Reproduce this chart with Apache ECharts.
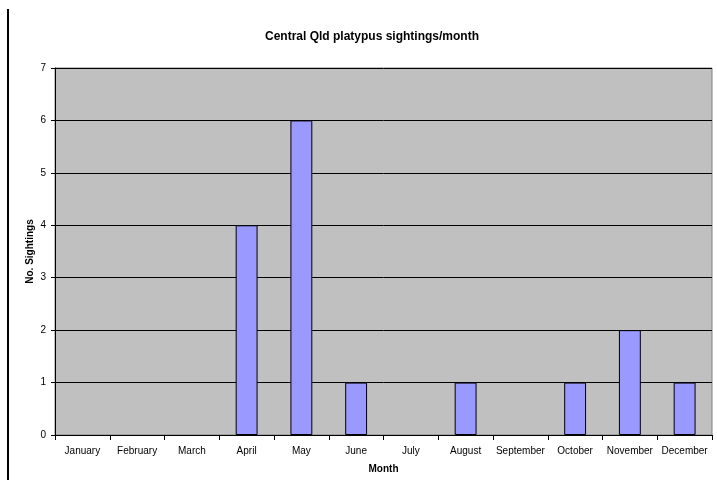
<!DOCTYPE html>
<html><head><meta charset="utf-8">
<script src="https://cdn.jsdelivr.net/npm/echarts@6/dist/echarts.min.js"></script>
<style>html,body{margin:0;padding:0;background:#fff}#c{width:717px;height:486px}</style>
</head><body><div id="c"></div>
<script>
const months = ['January','February','March','April','May','June','July','August','September','October','November','December'];
const sightings = [0,0,0,4,6,1,0,1,0,1,2,1];
const yTicks = [0,1,2,3,4,5,6,7];
const chart = echarts.init(document.getElementById('c'), null, {renderer:'canvas'});
const font = 'Liberation Sans, Arial, sans-serif';
chart.setOption({
  animation:false,
  backgroundColor:'#fff',
  title:{text:'Central Qld platypus sightings/month', left:367, top:26, textAlign:'center',
    textStyle:{fontFamily:font,fontSize:12,fontWeight:'bold',color:'#000'}},
  graphic:[{type:'rect',shape:{x:7,y:9,width:2,height:471},style:{fill:'#000'}}],
  grid:{left:55,right:5,top:68,bottom:51,show:true,backgroundColor:'#C0C0C0',borderColor:'#808080',borderWidth:1},
  xAxis:{type:'category',data:months,name:'Month',nameLocation:'middle',nameGap:29,nameMoveOverlap:false,
    nameTextStyle:{fontFamily:font,fontSize:10,fontWeight:'bold',color:'#000'},
    axisLine:{lineStyle:{color:'#000',width:1}},
    axisTick:{show:true,alignWithLabel:false,length:5,lineStyle:{color:'#000'}},
    axisLabel:{fontFamily:font,fontSize:10,color:'#000',margin:11,interval:0}},
  yAxis:{type:'value',min:yTicks[0],max:yTicks[yTicks.length-1],interval:1,name:'No. Sightings',nameLocation:'middle',nameGap:20,nameMoveOverlap:false,
    nameTextStyle:{fontFamily:font,fontSize:10,fontWeight:'bold',color:'#000'},
    axisLine:{show:true,lineStyle:{color:'#000',width:1}},
    axisTick:{show:true,length:4,lineStyle:{color:'#000'}},
    splitLine:{lineStyle:{color:'#000',width:1}},
    axisLabel:{fontFamily:font,fontSize:10,color:'#000',margin:9}},
  series:[{type:'bar',data:sightings.map(v => v === 0 ? '-' : v),barWidth:'40%',
    itemStyle:{color:'#9999FF',borderColor:'#000',borderWidth:1}}]
});
</script></body></html>
